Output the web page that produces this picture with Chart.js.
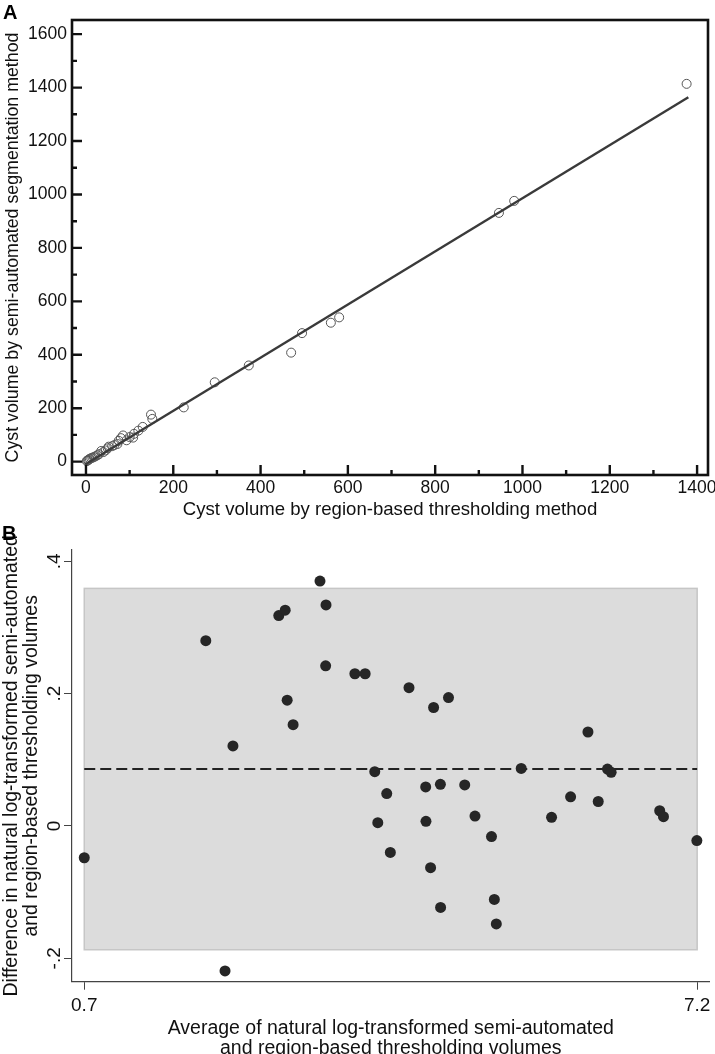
<!DOCTYPE html>
<html><head><meta charset="utf-8">
<script src="https://cdn.jsdelivr.net/npm/chart.js@4.4.1/dist/chart.umd.min.js"></script>
<style>
html,body{margin:0;padding:0;background:#fff;width:715px;height:1054px;overflow:hidden;}
.wrap{position:absolute;left:0;width:715px;}
#wa{top:0;height:522px;}
#wb{top:522px;height:532px;}
.panel{position:absolute;font-family:"Liberation Sans",Arial,sans-serif;font-weight:bold;font-size:20px;color:#000;line-height:20px;}
</style></head><body>
<div id="wa" class="wrap"><canvas id="ca"></canvas></div>
<div id="wb" class="wrap"><canvas id="cb"></canvas></div>
<div class="panel" style="left:3px;top:2px;">A</div>
<div class="panel" style="left:2px;top:523px;">B</div>
<script>
// ---------- Panel A data ----------
const regionVol = [1376, 981, 946, 580, 561, 495, 470, 373, 295, 224, 149, 152, 130, 120, 110, 108, 100, 93, 85, 80, 75, 72, 65, 60, 52, 50, 45, 40, 35, 30, 26, 22, 18, 15, 12, 9, 7, 5, 3, 2];
const semiVol   = [1414, 976, 931, 540, 520, 481, 408, 360, 297, 203, 176, 160, 130, 116, 104, 90, 92, 80, 98, 88, 78, 66, 62, 58, 56, 50, 42, 36, 40, 28, 24, 20, 17, 15, 13, 11, 8, 6, 4, 2];
const fitX = [-2, 1380];
const fitY = [-11, 1364];
const aXTicks = [0, 100, 200, 300, 400, 500, 600, 700, 800, 900, 1000, 1100, 1200, 1300, 1400];
const aYTicks = [0, 100, 200, 300, 400, 500, 600, 700, 800, 900, 1000, 1100, 1200, 1300, 1400, 1500, 1600];
const aXTitle = 'Cyst volume by region-based thresholding method';
const aYTitle = 'Cyst volume by semi-automated segmentation method';

// ---------- Panel B data ----------
const avgLog  = [0.700, 1.989, 2.277, 2.193, 2.763, 2.831, 2.852, 2.915, 3.200, 3.264, 3.260, 3.570, 3.679, 3.781, 3.908, 3.813, 3.946, 4.144, 4.405, 4.563, 4.321, 4.477, 4.735, 4.324, 4.844, 5.019, 5.334, 5.656, 5.858, 6.042, 6.151, 6.249, 6.288, 6.803, 6.843, 7.197, 4.373, 4.479, 5.049, 5.070];
const diffLog = [-0.048, 0.280, 0.121, -0.219, 0.318, 0.326, 0.190, 0.153, 0.370, 0.334, 0.242, 0.230, 0.230, 0.082, 0.049, 0.005, -0.040, 0.209, 0.179, 0.194, 0.059, 0.063, 0.062, 0.007, 0.015, -0.016, 0.087, 0.013, 0.044, 0.142, 0.037, 0.086, 0.081, 0.023, 0.014, -0.022, -0.063, -0.123, -0.111, -0.148];
const meanDiff = 0.086;
const upperLoA = 0.359;
const lowerLoA = -0.187;
const bandX = [0.7, 7.2];
const bXTicks = [0.7, 7.2];
const bXTickLabels = ['0.7', '7.2'];
const bYTicks = [-0.2, 0, 0.2, 0.4];
const bYTickLabels = ['-.2', '0', '.2', '.4'];
const bXTitle = ['Average of natural log-transformed semi-automated', 'and region-based thresholding volumes'];
const bYTitle = ['Difference in natural log-transformed semi-automated', 'and region-based thresholding volumes'];

const FONT = '"Liberation Sans", Arial, sans-serif';
Chart.defaults.font.family = FONT;
Chart.defaults.font.size = 17.5;
Chart.defaults.color = '#111';

// Frame + inward ticks for panel A
const frameA = {
  id: 'frameA',
  afterDraw(chart) {
    const {ctx, chartArea: a, scales: {x, y}} = chart;
    ctx.save();
    ctx.strokeStyle = '#111';
    ctx.lineWidth = 2.6;
    ctx.strokeRect(a.left, a.top, a.right - a.left, a.bottom - a.top);
    ctx.lineWidth = 2.4;
    ctx.beginPath();
    x.ticks.forEach(t => {
      const px = x.getPixelForValue(t.value);
      const len = t.value % 200 === 0 ? 10 : 5;
      ctx.moveTo(px, a.bottom); ctx.lineTo(px, a.bottom - len);
    });
    y.ticks.forEach(t => {
      const py = y.getPixelForValue(t.value);
      const len = t.value % 200 === 0 ? 10 : 5;
      ctx.moveTo(a.left, py); ctx.lineTo(a.left + len, py);
    });
    ctx.stroke();
    ctx.restore();
  }
};

// Limits-of-agreement band for panel B
const bandB = {
  id: 'bandB',
  beforeDatasetsDraw(chart) {
    const {ctx, scales: {x, y}} = chart;
    const l = x.getPixelForValue(bandX[0]), r = x.getPixelForValue(bandX[1]);
    const t = y.getPixelForValue(upperLoA), b = y.getPixelForValue(lowerLoA);
    ctx.save();
    ctx.fillStyle = '#dcdcdc';
    ctx.fillRect(l, t, r - l, b - t);
    ctx.strokeStyle = '#c6c6c6';
    ctx.lineWidth = 1.5;
    ctx.strokeRect(l, t, r - l, b - t);
    ctx.restore();
  },
  afterDraw(chart) {
    const {ctx, scales: {y}} = chart;
    ctx.save();
    ctx.fillStyle = '#111';
    ctx.font = '19px ' + FONT;
    ctx.textAlign = 'center';
    ctx.textBaseline = 'middle';
    bYTicks.forEach((v, i) => {
      ctx.save();
      ctx.translate(55, y.getPixelForValue(v));
      ctx.rotate(-Math.PI / 2);
      ctx.fillText(bYTickLabels[i], 0, 0);
      ctx.restore();
    });
    ctx.restore();
  }
};

new Chart(document.getElementById('ca'), {
  type: 'scatter',
  data: {
    datasets: [
      { type: 'line', data: fitX.map((v, i) => ({x: v, y: fitY[i]})), borderColor: '#3a3a3a', borderWidth: 2.4, pointRadius: 0, fill: false, order: 1 },
      { data: regionVol.map((v, i) => ({x: v, y: semiVol[i]})), pointRadius: 4.5, pointBorderWidth: 1, borderColor: '#555', backgroundColor: 'rgba(255,255,255,0)', order: 2 }
    ]
  },
  options: {
    responsive: true, maintainAspectRatio: false, animation: false,
    layout: {padding: {top: 20, right: 7, left: 0, bottom: 0}},
    plugins: {legend: {display: false}, tooltip: {enabled: false}},
    scales: {
      x: {
        type: 'linear', min: -32, max: 1425,
        afterBuildTicks: s => { s.ticks = aXTicks.map(v => ({value: v})); },
        ticks: {autoSkip: false, maxRotation: 0, padding: 3, callback: v => (v % 200 === 0 ? String(v) : '')},
        grid: {display: false, drawTicks: false}, border: {display: false},
        title: {display: true, text: aXTitle, padding: {top: 0, bottom: 1}, font: {size: 18.6}},
        afterFit: s => { s.height = 47; s.paddingLeft = 0; s.paddingRight = 0; }
      },
      y: {
        type: 'linear', min: -50, max: 1653,
        afterBuildTicks: s => { s.ticks = aYTicks.map(v => ({value: v})); },
        ticks: {autoSkip: false, padding: 5, callback: v => (v % 200 === 0 ? String(v) : '')},
        grid: {display: false, drawTicks: false}, border: {display: false},
        title: {display: true, text: aYTitle, padding: {top: 2, bottom: 0}, font: {size: 17.8}},
        afterFit: s => { s.width = 72; s.paddingTop = 0; s.paddingBottom = 0; }
      }
    }
  },
  plugins: [frameA]
});

new Chart(document.getElementById('cb'), {
  type: 'scatter',
  data: {
    datasets: [
      { data: avgLog.map((v, i) => ({x: v, y: diffLog[i]})), pointRadius: 5.5, pointBorderWidth: 0, backgroundColor: '#262626', borderColor: '#262626', order: 1 },
      { type: 'line', data: bandX.map(v => ({x: v, y: meanDiff})), borderColor: '#222', borderWidth: 2, borderDash: [11, 5], pointRadius: 0, fill: false, order: 2 }
    ]
  },
  options: {
    responsive: true, maintainAspectRatio: false, animation: false,
    layout: {padding: {top: 28, right: 3, left: 0, bottom: 0}},
    plugins: {legend: {display: false}, tooltip: {enabled: false}},
    scales: {
      x: {
        type: 'linear', min: 0.57, max: 7.331,
        afterBuildTicks: s => { s.ticks = bXTicks.map(v => ({value: v})); },
        ticks: {autoSkip: false, maxRotation: 0, padding: 5, callback: (v, i) => bXTickLabels[i], font: {size: 19}},
        grid: {display: true, drawOnChartArea: false, drawTicks: true, tickLength: 8, color: '#444', lineWidth: 1},
        border: {display: true, color: '#444', width: 1.2},
        title: {display: true, text: bXTitle, padding: {top: 0, bottom: -5}, font: {size: 19.5, lineHeight: 1.05}},
        afterFit: s => { s.height = 72.3; s.paddingLeft = 0; s.paddingRight = 0; }
      },
      y: {
        type: 'linear', min: -0.2353, max: 0.417,
        afterBuildTicks: s => { s.ticks = bYTicks.map(v => ({value: v})); },
        ticks: {display: false},
        grid: {display: true, drawOnChartArea: false, drawTicks: true, tickLength: 8, color: '#444', lineWidth: 1},
        border: {display: true, color: '#444', width: 1.2},
        title: {display: true, text: bYTitle, padding: {top: 1, bottom: 0}, font: {size: 19.5, lineHeight: 1.05}},
        afterFit: s => { s.width = 72; s.paddingTop = 0; s.paddingBottom = 0; }
      }
    }
  },
  plugins: [bandB]
});
</script>
</body></html>
